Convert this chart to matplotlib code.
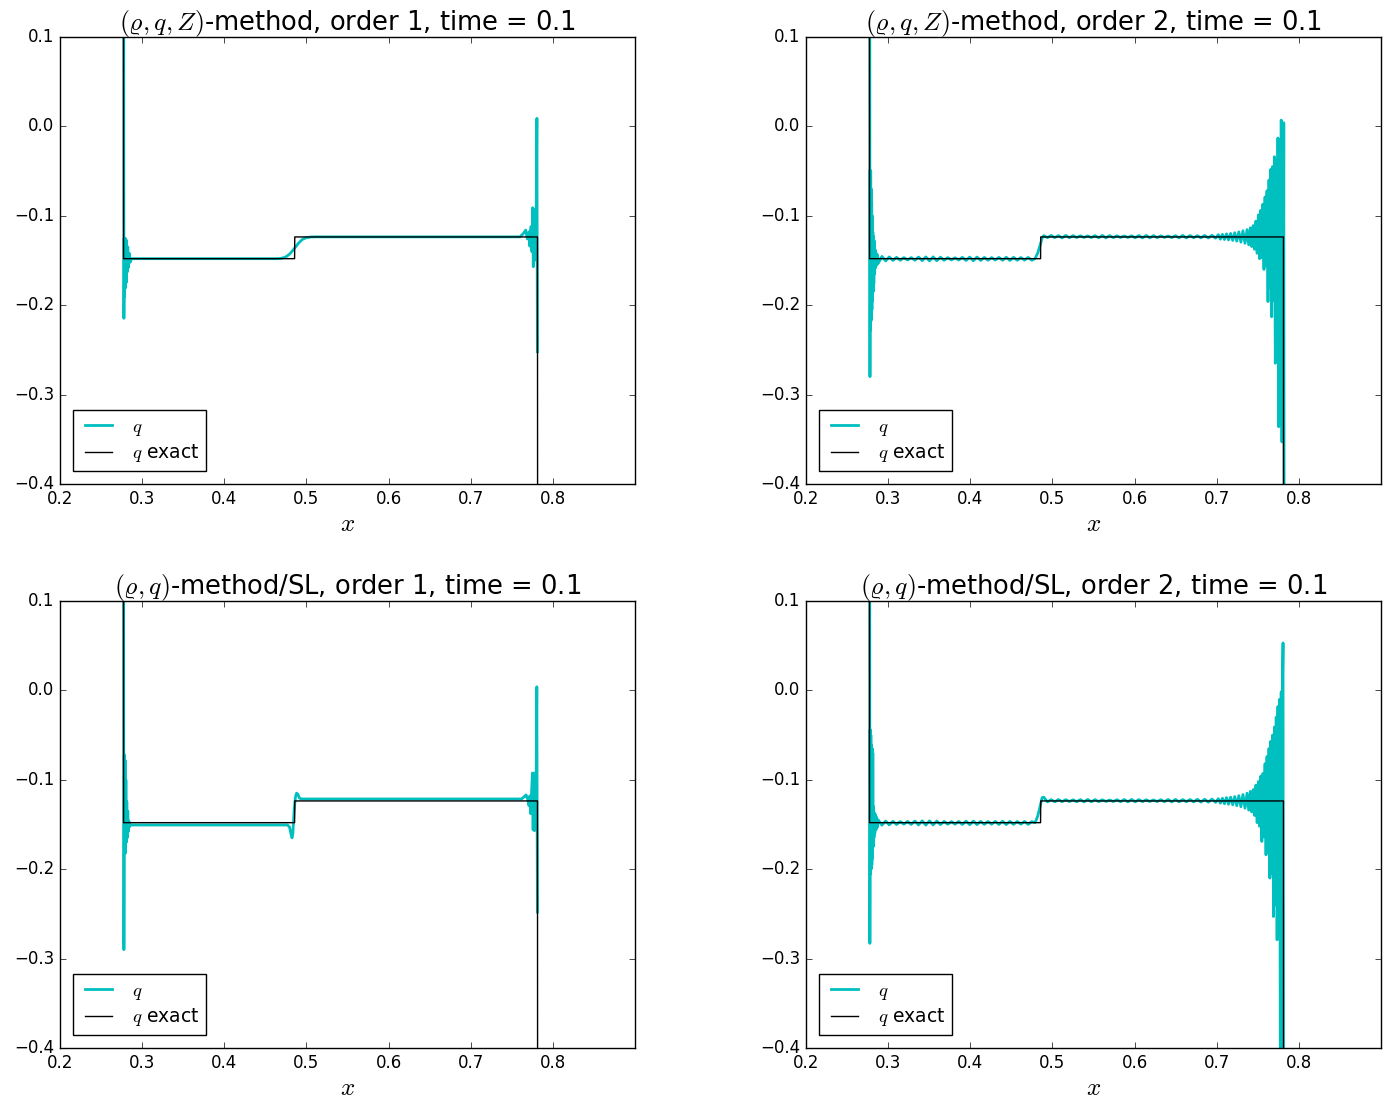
import numpy as np
import matplotlib.pyplot as plt

plt.style.use('classic')

titles = [r'$(\varrho, q, Z)$-method, order 1, time = 0.1',
          r'$(\varrho, q, Z)$-method, order 2, time = 0.1',
          r'$(\varrho, q)$-method/SL, order 1, time = 0.1',
          r'$(\varrho, q)$-method/SL, order 2, time = 0.1']

# exact solution (piecewise constant)
x_exact = [0.200, 0.2772, 0.2774, 0.4856, 0.4858, 0.7813, 0.7815, 0.900]
q_exact = [0.600, 0.600, -0.148, -0.148, -0.1237, -0.1237, -0.600, -0.600]

# (rho,q,Z) order 1
pts1 = [(0.2000, 0.50), (0.2773, 0.50), (0.2778, -0.2147), (0.2782, -0.125),
        (0.2786, -0.190), (0.2790, -0.125), (0.2795, -0.181), (0.2800, -0.126),
        (0.2805, -0.175), (0.2811, -0.128), (0.2818, -0.163), (0.2825, -0.135),
        (0.2833, -0.158), (0.2843, -0.142), (0.2855, -0.152), (0.2870, -0.148),
        (0.4650, -0.148), (0.4700, -0.1475), (0.4750, -0.1460), (0.4800, -0.1425),
        (0.4850, -0.1370), (0.4900, -0.1310), (0.4950, -0.1265), (0.5000, -0.1245),
        (0.5050, -0.1238), (0.5100, -0.1236), (0.7600, -0.1236), (0.7640, -0.1200),
        (0.7670, -0.1160), (0.7690, -0.1260), (0.7710, -0.1180), (0.7720, -0.1340),
        (0.7735, -0.1120), (0.7745, -0.1400), (0.7755, -0.0910), (0.7762, -0.1570),
        (0.7770, -0.0930), (0.7777, -0.1500), (0.7785, -0.1000), (0.7795, -0.1300),
        (0.7806, 0.0090), (0.7812, -0.2520)]

# (rho,q,Z) order 2
pts2 = [(0.2000, 0.50), (0.2775, 0.50),
        (0.2779, -0.280), (0.2782, -0.049), (0.2785, -0.228), (0.2788, -0.050),
        (0.2791, -0.218), (0.2794, -0.070), (0.2797, -0.215), (0.2800, -0.085),
        (0.2803, -0.205), (0.2806, -0.100), (0.2810, -0.195), (0.2814, -0.118),
        (0.2818, -0.185), (0.2822, -0.123), (0.2826, -0.176), (0.2831, -0.128),
        (0.2836, -0.165), (0.2842, -0.138), (0.2848, -0.158), (0.2855, -0.142),
        (0.2863, -0.155), (0.2872, -0.144), (0.2881, -0.153),
        (0.2925, -0.1455), (0.2970, -0.1505), (0.3014, -0.1460), (0.3059, -0.1500),
        (0.3103, -0.1465), (0.3148, -0.1498), (0.3192, -0.1468), (0.3237, -0.1495),
        (0.3281, -0.1468), (0.3326, -0.1497), (0.3370, -0.1462), (0.3415, -0.1502),
        (0.3459, -0.1460), (0.3504, -0.1505), (0.3548, -0.1460), (0.3593, -0.1503),
        (0.3637, -0.1463), (0.3682, -0.1498), (0.3726, -0.1468), (0.3771, -0.1494),
        (0.3815, -0.1470), (0.3860, -0.1495), (0.3904, -0.1465), (0.3949, -0.1500),
        (0.3993, -0.1462), (0.4038, -0.1503), (0.4082, -0.1462), (0.4127, -0.1500),
        (0.4171, -0.1466), (0.4216, -0.1497), (0.4260, -0.1468), (0.4305, -0.1495),
        (0.4349, -0.1466), (0.4394, -0.1498), (0.4438, -0.1464), (0.4483, -0.1500),
        (0.4527, -0.1465), (0.4572, -0.1498), (0.4616, -0.1467), (0.4661, -0.1496),
        (0.4705, -0.1466), (0.4750, -0.1498), (0.4790, -0.1478),
        (0.4820, -0.1420), (0.4850, -0.1330), (0.4875, -0.1250), (0.4895, -0.1222),
        (0.4940, -0.1245), (0.4985, -0.1220), (0.5029, -0.1245), (0.5074, -0.1222),
        (0.5118, -0.1248), (0.5163, -0.1220), (0.5207, -0.1246), (0.5252, -0.1222),
        (0.5296, -0.1244), (0.5341, -0.1224), (0.5385, -0.1243), (0.5430, -0.1225),
        (0.5474, -0.1244), (0.5519, -0.1222), (0.5563, -0.1247), (0.5608, -0.1220),
        (0.5652, -0.1247), (0.5697, -0.1222), (0.5741, -0.1245), (0.5786, -0.1224),
        (0.5830, -0.1243), (0.5875, -0.1226), (0.5919, -0.1243), (0.5964, -0.1224),
        (0.6008, -0.1246), (0.6053, -0.1221), (0.6097, -0.1248), (0.6142, -0.1220),
        (0.6186, -0.1247), (0.6231, -0.1222), (0.6275, -0.1245), (0.6320, -0.1225),
        (0.6364, -0.1242), (0.6409, -0.1226), (0.6453, -0.1244), (0.6498, -0.1223),
        (0.6542, -0.1247), (0.6587, -0.1220), (0.6631, -0.1248), (0.6676, -0.1221),
        (0.6720, -0.1246), (0.6765, -0.1223), (0.6809, -0.1247), (0.6854, -0.1220),
        (0.6898, -0.1249), (0.6943, -0.1218), (0.6987, -0.1251),
        (0.7020, -0.1212), (0.7045, -0.1262), (0.7070, -0.1208), (0.7095, -0.1266),
        (0.7120, -0.1203), (0.7145, -0.1270), (0.7170, -0.1198), (0.7195, -0.1276),
        (0.7220, -0.1190), (0.7245, -0.1284), (0.7270, -0.1180), (0.7295, -0.1295),
        (0.7320, -0.1168), (0.7345, -0.1308), (0.7370, -0.1155), (0.7390, -0.1325),
        (0.7410, -0.1135), (0.7428, -0.1345), (0.7445, -0.1110), (0.7462, -0.1375),
        (0.7478, -0.1060), (0.7493, -0.1420), (0.7508, -0.0990), (0.7522, -0.1480),
        (0.7536, -0.0940), (0.7550, -0.1470), (0.7563, -0.0870), (0.7576, -0.1600),
        (0.7589, -0.0790), (0.7601, -0.1560), (0.7613, -0.0720), (0.7625, -0.1960),
        (0.7637, -0.0600), (0.7648, -0.1800), (0.7659, -0.0480), (0.7670, -0.2130),
        (0.7681, -0.0450), (0.7692, -0.1950), (0.7703, -0.0340), (0.7714, -0.2650),
        (0.7725, -0.0380), (0.7736, -0.2400), (0.7746, -0.0130), (0.7756, -0.3360),
        (0.7766, -0.0250), (0.7776, -0.3000), (0.7786, 0.0070), (0.7795, -0.3530),
        (0.7803, 0.0000), (0.7811, -0.3200), (0.7817, 0.0040), (0.7822, -0.6000),
        (0.9000, -0.6000)]

# (rho,q)/SL order 1
pts3 = [(0.2000, 0.50), (0.2770, 0.50), (0.2778, -0.290), (0.2783, -0.072),
        (0.2788, -0.182), (0.2792, -0.078), (0.2797, -0.182), (0.2802, -0.100),
        (0.2807, -0.170), (0.2813, -0.1245), (0.2819, -0.165), (0.2825, -0.135),
        (0.2831, -0.158), (0.2838, -0.146), (0.2848, -0.1525), (0.2860, -0.1506),
        (0.4770, -0.1506), (0.4795, -0.1530), (0.4815, -0.1620), (0.4825, -0.1650),
        (0.4835, -0.1600), (0.4850, -0.1350), (0.4865, -0.1200), (0.4880, -0.1150),
        (0.4895, -0.1160), (0.4915, -0.1205), (0.4940, -0.1215), (0.7620, -0.1215),
        (0.7650, -0.1190), (0.7675, -0.1170), (0.7695, -0.1220), (0.7710, -0.1290),
        (0.7720, -0.1180), (0.7732, -0.1380), (0.7742, -0.1120), (0.7752, -0.0925),
        (0.7760, -0.1560), (0.7768, -0.0925), (0.7776, -0.1570), (0.7785, -0.0925),
        (0.7795, -0.1300), (0.7805, 0.0040), (0.7812, -0.2480)]

# (rho,q)/SL order 2
pts4 = [(0.2000, 0.50), (0.2775, 0.50),
        (0.2778, -0.283), (0.2782, -0.044), (0.2786, -0.205), (0.2790, -0.050),
        (0.2794, -0.200), (0.2798, -0.061), (0.2802, -0.195), (0.2806, -0.065),
        (0.2810, -0.188), (0.2814, -0.070), (0.2818, -0.175), (0.2823, -0.130),
        (0.2828, -0.165), (0.2833, -0.137), (0.2838, -0.160), (0.2845, -0.139),
        (0.2852, -0.156), (0.2860, -0.142), (0.2870, -0.153), (0.2880, -0.145),
        (0.2925, -0.1508), (0.2970, -0.1462), (0.3014, -0.1505), (0.3059, -0.1465),
        (0.3103, -0.1500), (0.3148, -0.1468), (0.3192, -0.1497), (0.3237, -0.1466),
        (0.3281, -0.1500), (0.3326, -0.1462), (0.3370, -0.1505), (0.3415, -0.1460),
        (0.3459, -0.1507), (0.3504, -0.1460), (0.3548, -0.1505), (0.3593, -0.1462),
        (0.3637, -0.1502), (0.3682, -0.1466), (0.3726, -0.1498), (0.3771, -0.1468),
        (0.3815, -0.1497), (0.3860, -0.1466), (0.3904, -0.1500), (0.3949, -0.1463),
        (0.3993, -0.1503), (0.4038, -0.1462), (0.4082, -0.1502), (0.4127, -0.1465),
        (0.4171, -0.1499), (0.4216, -0.1467), (0.4260, -0.1497), (0.4305, -0.1466),
        (0.4349, -0.1500), (0.4394, -0.1464), (0.4438, -0.1501), (0.4483, -0.1465),
        (0.4527, -0.1499), (0.4572, -0.1467), (0.4616, -0.1497), (0.4661, -0.1466),
        (0.4705, -0.1499), (0.4750, -0.1468), (0.4790, -0.1480),
        (0.4820, -0.1410), (0.4850, -0.1300), (0.4875, -0.1200), (0.4895, -0.1195),
        (0.4940, -0.1248), (0.4985, -0.1222), (0.5029, -0.1247), (0.5074, -0.1221),
        (0.5118, -0.1246), (0.5163, -0.1223), (0.5207, -0.1244), (0.5252, -0.1224),
        (0.5296, -0.1246), (0.5341, -0.1222), (0.5385, -0.1248), (0.5430, -0.1220),
        (0.5474, -0.1247), (0.5519, -0.1222), (0.5563, -0.1245), (0.5608, -0.1224),
        (0.5652, -0.1243), (0.5697, -0.1226), (0.5741, -0.1244), (0.5786, -0.1223),
        (0.5830, -0.1246), (0.5875, -0.1221), (0.5919, -0.1248), (0.5964, -0.1220),
        (0.6008, -0.1247), (0.6053, -0.1222), (0.6097, -0.1245), (0.6142, -0.1224),
        (0.6186, -0.1243), (0.6231, -0.1226), (0.6275, -0.1244), (0.6320, -0.1223),
        (0.6364, -0.1246), (0.6409, -0.1221), (0.6453, -0.1248), (0.6498, -0.1220),
        (0.6542, -0.1247), (0.6587, -0.1222), (0.6631, -0.1246), (0.6676, -0.1221),
        (0.6720, -0.1248), (0.6765, -0.1219), (0.6809, -0.1250), (0.6854, -0.1218),
        (0.6898, -0.1251), (0.6943, -0.1216), (0.6987, -0.1253),
        (0.7020, -0.1212), (0.7045, -0.1262), (0.7070, -0.1207), (0.7095, -0.1268),
        (0.7120, -0.1200), (0.7145, -0.1274), (0.7170, -0.1195), (0.7195, -0.1280),
        (0.7220, -0.1188), (0.7245, -0.1290), (0.7270, -0.1178), (0.7295, -0.1302),
        (0.7320, -0.1165), (0.7345, -0.1318), (0.7370, -0.1150), (0.7390, -0.1340),
        (0.7410, -0.1130), (0.7428, -0.1360), (0.7445, -0.1110), (0.7462, -0.1400),
        (0.7478, -0.1060), (0.7493, -0.1480), (0.7508, -0.1020), (0.7522, -0.1520),
        (0.7536, -0.0960), (0.7550, -0.1690), (0.7563, -0.0930), (0.7576, -0.1640),
        (0.7589, -0.0820), (0.7601, -0.1840), (0.7613, -0.0740), (0.7625, -0.1800),
        (0.7637, -0.0650), (0.7648, -0.2100), (0.7659, -0.0570), (0.7670, -0.2050),
        (0.7681, -0.0500), (0.7692, -0.2530), (0.7703, -0.0410), (0.7714, -0.2400),
        (0.7725, -0.0300), (0.7736, -0.2790), (0.7746, -0.0180), (0.7756, -0.2700),
        (0.7766, -0.0100), (0.7776, -0.4500), (0.7786, -0.0015), (0.7795, -0.4500),
        (0.7803, 0.0200), (0.7808, 0.0530), (0.7813, -0.6000), (0.9000, -0.6000)]

series = [pts1, pts2, pts3, pts4]

fig = plt.figure(figsize=(13.89, 11.03), dpi=100, facecolor='white')
plt.subplots_adjust(left=0.0432, right=0.9942, top=0.9665, bottom=0.0499,
                    wspace=0.2974, hspace=0.2617)

for i in range(4):
    ax = fig.add_subplot(2, 2, i + 1)
    xs, qs = np.array(series[i]).T
    ax.plot(xs, qs, color='c', lw=2, label=r'$q$')
    ax.plot(x_exact, q_exact, color='k', lw=1, label=r'$q$ exact')
    ax.set_xlim(0.2, 0.9)
    ax.set_ylim(-0.4, 0.1)
    ax.set_xticks([0.2, 0.3, 0.4, 0.5, 0.6, 0.7, 0.8])
    ax.set_yticks([-0.4, -0.3, -0.2, -0.1, 0.0, 0.1])
    ax.set_title(titles[i], fontsize=18.5)
    ax.set_xlabel(r'$x$', fontsize=18, labelpad=3)
    ax.legend(loc='lower left', fontsize=13.5, labelspacing=0.25,
              borderpad=0.35, borderaxespad=0.7)

fig.savefig('out.png', dpi=100, facecolor='white')
